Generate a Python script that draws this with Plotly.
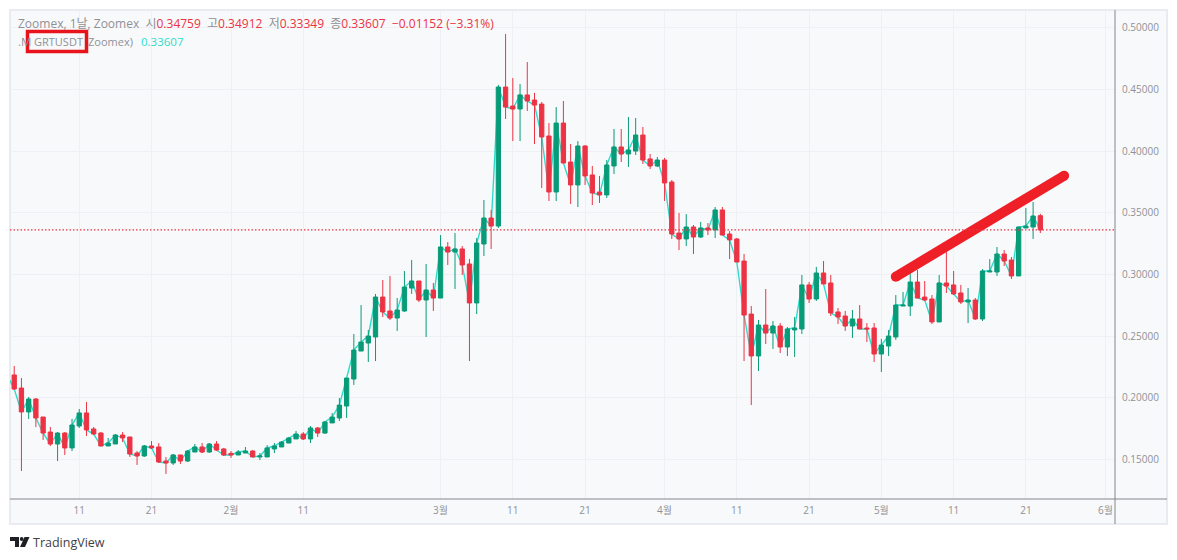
import pandas as pd
import plotly.graph_objects as go

# GRTUSDT daily candles, 2024-01-01 .. 2024-05-23
opens = [
    .2200, .2184, .2078, .1884, .1989, .1843, .1721, .1624, .1713, .1592, .1770,
    .1876, .1746, .1713, .1608, .1624, .1697, .1681, .1551, .1527, .1608, .1600,
    .1486, .1470, .1535, .1486, .1559, .1600, .1559, .1624, .1584,
    .1548, .1535, .1551, .1567, .1519, .1519, .1584, .1600, .1632, .1665, .1705,
    .1665, .1754, .1713, .1795, .1835, .1932, .2151, .2378, .2443, .2492, .2816,
    .2703, .2646, .2703, .2889, .2946, .2792, .2873,
    .2808, .3222, .3181, .3206, .3084, .2768, .3246, .3457, .3392, .4519, .4365,
    .4341, .4455, .4414, .4381, .4122, .3668, .4227, .3911, .3725, .4041, .3806,
    .3668, .3644, .3879, .4033, .3976, .4000, .4130, .3936, .3879,
    .3927, .3749, .3335, .3287, .3384, .3303, .3376, .3360, .3522, .3327, .3287,
    .3108, .2678, .2338, .2589, .2524, .2581, .2411, .2549, .2557, .2914, .2800,
    .3011, .2930, .2695, .2662, .2581, .2638, .2565, .2565,
    .2354, .2419, .2492, .2743, .2743, .2938, .2816, .2800, .2614, .2930, .2914,
    .2849, .2776, .2792, .2638, .3019, .3019, .3165, .3116, .2987, .3376, .3384,
    .34759,
]
highs = [
    .2240, .2257, .2159, .2005, .1997, .1843, .1762, .1721, .1721, .1827, .1908,
    .1965, .1762, .1721, .1673, .1705, .1721, .1681, .1567, .1616, .1648, .1632,
    .1519, .1543, .1535, .1575, .1624, .1632, .1632, .1648, .1592,
    .1567, .1575, .1600, .1575, .1551, .1616, .1632, .1648, .1681, .1730, .1721,
    .1770, .1762, .1811, .1875, .1997, .2159, .2516, .2751, .2549, .2841, .2954,
    .2987, .2808, .3027, .3116, .2946, .3084, .2930,
    .3319, .3262, .3335, .3230, .3125, .3295, .3603, .3522, .4536, .4949, .4592,
    .4544, .4722, .4471, .4398, .4227, .4357, .4406, .4057, .4081, .4049, .3879,
    .3798, .3927, .4179, .4179, .4276, .4268, .4195, .3976, .3952,
    .3944, .3765, .3498, .3489, .3400, .3425, .3416, .3546, .3546, .3351, .3295,
    .3165, .2743, .2630, .2881, .2622, .2605, .2573, .2654, .2995, .2938, .3060,
    .3108, .2995, .2727, .2703, .2711, .2751, .2605, .2605,
    .2476, .2549, .2832, .2857, .3050, .3035, .2946, .2832, .2995, .3181, .3027,
    .2914, .2889, .2808, .3043, .3124, .3222, .3197, .3141, .3384, .3538, .3587,
    .34912,
]
lows = [
    .2150, .2062, .1405, .1827, .1762, .1657, .1608, .1486, .1535, .1567, .1754,
    .1689, .1697, .1608, .1608, .1624, .1640, .1519, .1454, .1519, .1584, .1470,
    .1381, .1454, .1462, .1478, .1559, .1551, .1551, .1567, .1527,
    .1511, .1535, .1551, .1519, .1494, .1519, .1551, .1600, .1632, .1665, .1657,
    .1632, .1681, .1705, .1795, .1811, .1835, .2103, .2378, .2289, .2297, .2654,
    .2630, .2541, .2695, .2841, .2776, .2492, .2703,
    .2808, .3076, .2881, .2995, .2297, .2678, .3149, .3206, .3376, .4260, .4081,
    .4081, .4325, .4057, .3700, .3595, .3595, .3903, .3571, .3546, .3725, .3562,
    .3579, .3619, .3814, .3911, .3871, .3968, .3895, .3854, .3870,
    .3595, .3287, .3197, .3230, .3165, .3295, .3319, .3295, .3319, .3124, .3100,
    .2297, .1940, .2216, .2435, .2395, .2362, .2338, .2330, .2516, .2768, .2784,
    .2922, .2662, .2597, .2541, .2484, .2557, .2451, .2289,
    .2208, .2338, .2468, .2743, .2662, .2808, .2784, .2597, .2614, .2849, .2833,
    .2759, .2605, .2630, .2622, .3019, .2987, .3068, .2962, .2987, .3376, .3287,
    .33349,
]
closes = [
    .2184, .2070, .1884, .1989, .1835, .1713, .1624, .1713, .1592, .1778, .1876,
    .1738, .1705, .1608, .1632, .1697, .1673, .1543, .1527, .1608, .1592, .1478,
    .1470, .1535, .1486, .1567, .1600, .1559, .1624, .1575, .1535,
    .1535, .1559, .1567, .1519, .1527, .1592, .1608, .1640, .1673, .1705, .1665,
    .1754, .1713, .1803, .1843, .1940, .2159, .2386, .2451, .2500, .2816, .2695,
    .2646, .2711, .2897, .2946, .2792, .2873, .2808,
    .3222, .3181, .3206, .3076, .2768, .3254, .3457, .3392, .4519, .4357, .4341,
    .4455, .4406, .4373, .4114, .3668, .4227, .3903, .3725, .4041, .3798, .3660,
    .3644, .3887, .4033, .3976, .4009, .4130, .3927, .3879, .3927,
    .3741, .3327, .3287, .3384, .3303, .3376, .3360, .3522, .3319, .3279, .3100,
    .2670, .2338, .2589, .2524, .2581, .2411, .2557, .2565, .2914, .2800, .3011,
    .2922, .2687, .2654, .2581, .2638, .2557, .2557, .2354,
    .2427, .2500, .2751, .2751, .2938, .2808, .2792, .2614, .2930, .2905, .2841,
    .2776, .2792, .2638, .3027, .3027, .3165, .3108, .2987, .3384, .3392, .3473,
    .33607,
]
dates = pd.date_range("2024-01-01", periods=len(closes), freq="D")

tick_dates = ["2024-01-11", "2024-01-21", "2024-02-01", "2024-02-11", "2024-03-01", "2024-03-11", "2024-03-21",
              "2024-04-01", "2024-04-11", "2024-04-21", "2024-05-01", "2024-05-11", "2024-05-21", "2024-06-01"]
tick_labels = ["11", "21", "2월", "11", "3월", "11", "21", "4월", "11", "21", "5월", "11", "21", "6월"]
price_ticks = [0.15, 0.20, 0.25, 0.30, 0.35, 0.40, 0.45, 0.50]
last_price = 0.33607

# the hand drawn marker line
trend_dates = ["2024-05-03 00:00", "2024-05-26 07:00"]
trend_prices = [0.2981, 0.3800]

x_range = ["2024-01-01 10:00", "2024-06-02 08:00"]
y_range = [0.1178, 0.5144]

GREEN = "#089b78"
RED = "#ec3344"
TEAL = "#2fdccb"
GREY = "#8f9196"
FONT = "Open Sans, Noto Sans CJK KR, sans-serif"


# page pixels -> paper coordinates (plot area is x 10..1115, y 10..499 on the page)
def px(x):
    return (x - 10) / 1105


def py(y):
    return (499 - y) / 489


def red(s):
    return f'<span style="color:{RED}">{s}</span>'


fig = go.Figure()

# line on the base axes so the candles sit on top of it
fig.add_trace(go.Scatter(x=dates, y=closes, mode="lines", line=dict(color=TEAL, width=1.4), hoverinfo="skip"))

fig.add_trace(go.Candlestick(
    x=dates, open=opens, high=highs, low=lows, close=closes,
    xaxis="x2", yaxis="y2",
    increasing=dict(line=dict(color=GREEN, width=1), fillcolor=GREEN),
    decreasing=dict(line=dict(color=RED, width=1), fillcolor=RED),
))

fig.add_trace(go.Scatter(
    x=trend_dates, y=trend_prices, mode="lines+markers", xaxis="x2", yaxis="y2",
    line=dict(color="#ee1f27", width=10), marker=dict(color="#ee1f27", size=10), hoverinfo="skip",
))

shapes = [
    # panel behind plot and both scales
    dict(type="rect", xref="paper", yref="paper", x0=px(10), x1=px(1167), y0=py(524), y1=py(10), layer="below",
         fillcolor="#f8f9fb", line=dict(color="#e9ebf0", width=2)),
    # scale borders
    dict(type="line", xref="paper", yref="paper", x0=px(10), x1=px(1167), y0=py(499), y1=py(499),
         line=dict(color="#85868a", width=1)),
    dict(type="line", xref="paper", yref="paper", x0=px(1115), x1=px(1115), y0=py(524), y1=py(10),
         line=dict(color="#85868a", width=1)),
    # last price line
    dict(type="line", xref="paper", yref="y", x0=0, x1=1, y0=last_price, y1=last_price,
         line=dict(color=RED, width=1.2, dash="1.5px,2px")),
    # red box around the ticker
    dict(type="rect", xref="paper", yref="paper", x0=px(27.5), x1=px(86.5), y0=py(51.5), y1=py(31.5),
         line=dict(color="#e8141c", width=3.5)),
    # TradingView logo
    dict(type="path", xref="paper", yref="paper", fillcolor="#1f2023", line=dict(width=0),
         path=f"M{px(10)},{py(537)} L{px(19)},{py(537)} L{px(19)},{py(547)} L{px(15)},{py(547)} "
              f"L{px(15)},{py(541)} L{px(10)},{py(541)} Z"),
    dict(type="path", xref="paper", yref="paper", fillcolor="#1f2023", line=dict(width=0),
         path=f"M{px(24.5)},{py(537)} L{px(29.5)},{py(537)} L{px(25)},{py(547)} L{px(20)},{py(547)} Z"),
    dict(type="circle", xref="paper", yref="paper", fillcolor="#1f2023", line=dict(width=0),
         x0=px(19.8), x1=px(23.6), y0=py(541), y1=py(537)),
]


def text(x, y, s, color=GREY, size=11.5):
    return dict(xref="paper", yref="paper", x=px(x), y=py(y), xanchor="left", yanchor="middle", text=s,
                showarrow=False, font=dict(family=FONT, size=size, color=color))


annotations = [
    text(16, 24, f"Zoomex, 1날, Zoomex  시{red('0.34759')}  고{red('0.34912')}  저{red('0.33349')}  "
                 f"종{red('0.33607')}  {red('−0.01152 (−3.31%)')}", size=12),
    text(16, 41, ".M"),
    text(32, 41, "GRTUSDT", size=11),
    text(86, 41, "Zoomex)", size=11),
    text(139, 41, "0.33607", color=TEAL),
    text(31, 542, "TradingView", color="#3f4145", size=12.5),
]

fig.update_layout(
    width=1161, height=544, autosize=False,
    margin=dict(l=2, r=54, t=2, b=53),
    paper_bgcolor="white", plot_bgcolor="rgba(0,0,0,0)",
    showlegend=False, boxgap=0.15,
    shapes=shapes, annotations=annotations,
    font=dict(family=FONT, color=GREY, size=10),
    xaxis=dict(type="date", range=x_range, tickmode="array", tickvals=tick_dates, ticktext=tick_labels,
               showgrid=True, gridcolor="#eef0f3", gridwidth=1, zeroline=False, ticks="", showline=False,
               rangeslider=dict(visible=False), ticklabelstandoff=4),
    yaxis=dict(range=y_range, side="right", tickmode="array", tickvals=price_ticks, tickformat=".5f",
               showgrid=True, gridcolor="#eef0f3", gridwidth=1, zeroline=False, ticks="", showline=False,
               ticklabelstandoff=6),
    xaxis2=dict(type="date", range=x_range, overlaying="x", visible=False, rangeslider=dict(visible=False)),
    yaxis2=dict(range=y_range, overlaying="y", visible=False),
)

fig.write_html("out.html")
